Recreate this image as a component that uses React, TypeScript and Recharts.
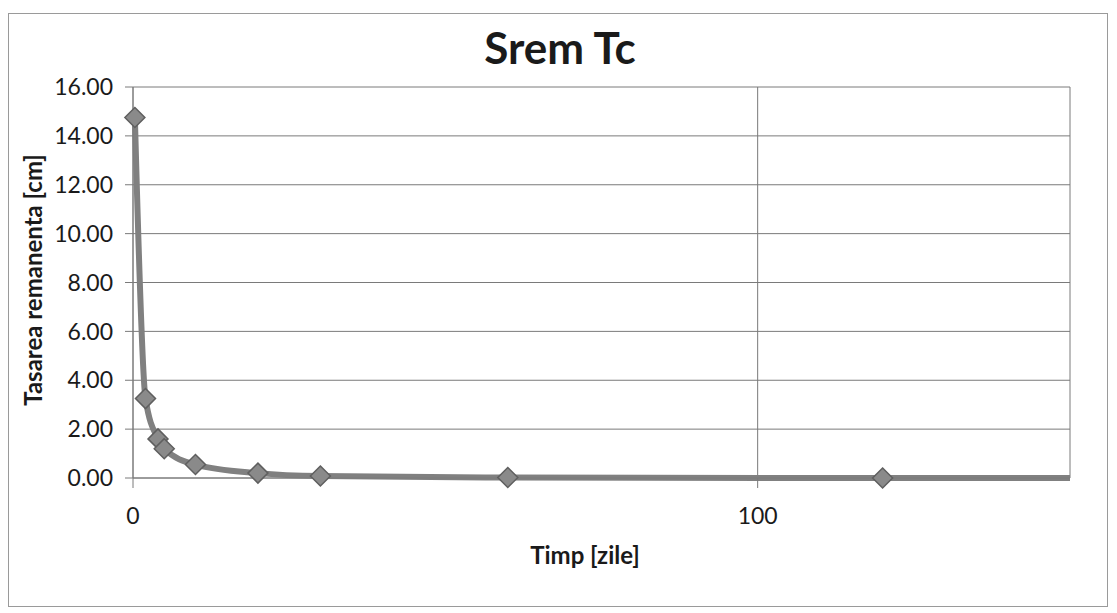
import React from "react";
import { ComposedChart, Line, XAxis, YAxis, CartesianGrid } from "recharts";

// time in days and remaining settlement in cm
const days = [0.3, 2, 4, 5, 10, 20, 30, 60, 120, 150];
const settlement = [14.75, 3.25, 1.6, 1.2, 0.55, 0.2, 0.08, 0.02, 0.0, 0.0];
const markerDays = [0.3, 2, 4, 5, 10, 20, 30, 60, 120];
const yTicks = [0, 2, 4, 6, 8, 10, 12, 14, 16];
const xTicks = [0, 100];

const data = days.map((d, i) => ({ t: d, s: settlement[i] }));

const FONT = "Lato, 'Open Sans', sans-serif";

const Diamond = (props: any) => {
  const { cx, cy, payload } = props;
  if (cx == null || cy == null || !markerDays.includes(payload.t)) return null;
  const r = 10;
  return (
    <path
      d={`M${cx},${cy - r} L${cx + r},${cy} L${cx},${cy + r} L${cx - r},${cy} Z`}
      fill="#8a8a8a"
      stroke="#5f5f5f"
      strokeWidth={1.5}
    />
  );
};

export default function App() {
  return (
    <div
      style={{
        position: "absolute",
        left: 8,
        top: 13,
        width: 1098,
        height: 592,
        border: "1px solid #9a9a9a",
        background: "#fff",
        fontFamily: FONT,
      }}
    >
      <div
        style={{
          position: "absolute",
          left: 0,
          right: 0,
          top: 7,
          textAlign: "center",
          fontSize: 44,
          fontWeight: 700,
          color: "#1a1a1a",
          paddingLeft: 4,
        }}
      >
        Srem Tc
      </div>
      <ComposedChart
        width={1098}
        height={592}
        data={data}
        margin={{ top: 73, right: 37, left: 54, bottom: 88 }}
      >
        <CartesianGrid stroke="#7a7a7a" strokeWidth={1} />
        <XAxis
          dataKey="t"
          type="number"
          domain={[0, 150]}
          ticks={xTicks}
          height={40}
          tickSize={10}
          tickMargin={20}
          stroke="#7a7a7a"
          tick={{ fill: "#1a1a1a", fontSize: 23, fontFamily: FONT }}
          label={{
            content: () => (
              <text
                x={576}
                y={550}
                textAnchor="middle"
                fontSize={24}
                fontWeight={700}
                fill="#1a1a1a"
                fontFamily={FONT}
              >
                Timp [zile]
              </text>
            ),
          }}
        />
        <YAxis
          type="number"
          domain={[0, 16]}
          ticks={yTicks}
          width={70}
          tickSize={8}
          tickMargin={12}
          stroke="#7a7a7a"
          tickFormatter={(v: number) => v.toFixed(2)}
          tick={{ fill: "#1a1a1a", fontSize: 23, fontFamily: FONT }}
          label={{
            content: () => (
              <text
                x={33}
                y={266}
                transform="rotate(-90 33 266)"
                textAnchor="middle"
                fontSize={24}
                fontWeight={700}
                fill="#1a1a1a"
                fontFamily={FONT}
              >
                Tasarea remanenta [cm]
              </text>
            ),
          }}
        />
        <Line
          type="monotone"
          dataKey="s"
          stroke="#808080"
          strokeWidth={6}
          dot={<Diamond />}
          activeDot={false}
          isAnimationActive={false}
        />
      </ComposedChart>
    </div>
  );
}
